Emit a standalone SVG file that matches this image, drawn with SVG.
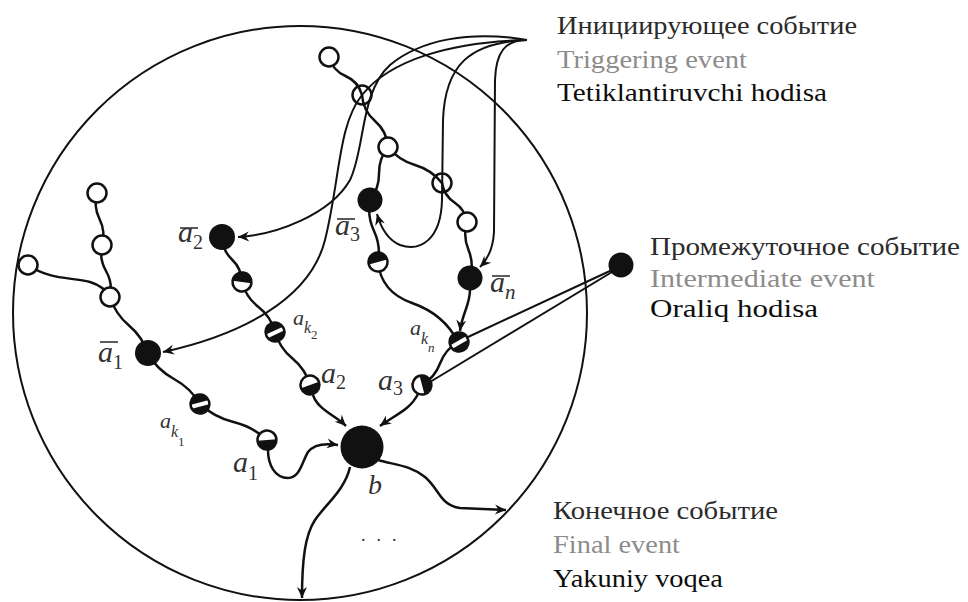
<svg xmlns="http://www.w3.org/2000/svg" xmlns:xlink="http://www.w3.org/1999/xlink" width="968" height="602" viewBox="0 0 968 602">
<style>
.ring{fill:none;stroke:#111;stroke-width:2.5}
.open{fill:#fff;stroke:#111;stroke-width:2.5}
.blk{fill:#111}
.wave{fill:none;stroke:#111;stroke-width:2.5;stroke-linecap:round}
.arr{fill:none;stroke:#111;stroke-width:2}
.thick{fill:none;stroke:#111;stroke-width:2.5}
.lab{font-family:"Liberation Serif","Times New Roman",serif;font-style:italic;fill:#333}
.up{font-style:normal}
.bar{stroke:#333;stroke-width:1.6}
.leg{font-family:"Liberation Serif","Times New Roman",serif;font-size:26px}
.t1{fill:#2b2b2b}
.t2{fill:#8c8c8c}
.t3{fill:#0d0d0d}
</style>
<defs>
<marker id="ah" viewBox="-12 -6 13 12" refX="0" refY="0" markerWidth="13" markerHeight="12" markerUnits="userSpaceOnUse" orient="auto">
<path d="M0,0 L-11,-5 L-7.5,0 L-11,5 Z" fill="#111"/>
</marker>
<clipPath id="cc"><circle r="8.5"/></clipPath>
<g id="halfT"><circle r="9.5" fill="#fff"/><path d="M-9.5,0 A9.5,9.5 0 0 1 9.5,0 Z" fill="#111"/><circle r="9.5" class="ring"/></g>
<g id="strp"><circle r="9.5" fill="#111"/><rect x="-11" y="-1.5" width="22" height="4" fill="#fff" clip-path="url(#cc)"/><circle r="9.5" class="ring"/></g>
</defs>
<rect width="968" height="602" fill="#fff"/>

<circle cx="300" cy="313" r="287" fill="none" stroke="#111" stroke-width="2"/>

<g id="connectors">
<path class="wave" d="M329,57 Q332.7,70.5 345.5,76 T362,95"/>
<path class="wave" d="M362,95 Q363.1,110.7 375,121 T388,147"/>
<path class="wave" d="M388,147 Q398.7,160.2 415,165 T442,183"/>
<path class="wave" d="M442,183 Q444,195.5 454.5,202.5 T467,222"/>
<path class="wave" d="M467,222 Q462.75,236 468.5,250 T470,278"/>
<path class="wave" d="M388,147 Q378.8,158.6 379,173.5 T370,200"/>
<path class="wave" d="M370,200 Q367,216 374,231 T378,262"/>
<path class="wave" d="M378,262 C380,282 392,296 412,303 C432,310 448,322 458,342"/>
<path class="wave" d="M458,342 Q445.2,349.5 440,363.5 T422,385"/>
<path class="wave" d="M275,332 Q279.6,348 292.5,358.5 T310,385"/>
<path class="wave" d="M242,282 Q246,297.25 258.5,307 T275,332"/>
<path class="wave" d="M222,237 Q222.4,250.3 232,259.5 T242,282"/>
<path class="wave" d="M97,193 Q93.25,206.5 99.5,219 T102,245"/>
<path class="wave" d="M102,245 Q99,258.8 106,271 T110,297"/>
<path class="wave" d="M28,265 C50,280 70,277 90,282 C100,285 106,290 110,297"/>
<path class="wave" d="M110,297 Q115.3,314 129,325.5 T148,354"/>
<path class="wave" d="M148,354 Q157.5,370 174,379 T200,404"/>
<path class="wave" d="M200,404 Q214.4,417.4 233.5,422 T267,440"/>
<path class="thick" marker-end="url(#ah)" d="M470,290 C470,305 462,314 460,331"/>
<path class="thick" marker-end="url(#ah)" d="M418,394 C410,410 395,415 380,426"/>
<path class="thick" marker-end="url(#ah)" d="M313,395 C318,410 335,415 346,426"/>
<path class="thick" marker-end="url(#ah)" d="M268,450 C268,465 275,478 288,478 C300,478 302,462 308,452 C314,444 325,443 338,445"/>
<path class="thick" marker-end="url(#ah)" d="M350,467 C345,490 325,505 315,520 C305,535 302,560 302,598"/>
<path class="thick" marker-end="url(#ah)" d="M378,460 C395,465 410,465 425,477 C440,490 440,505 460,508 L506,510"/>
<path class="arr" marker-end="url(#ah)" d="M527,40 C470,30 420,40 390,65 C360,92 365,150 350,180 C330,215 275,235 238,237"/>
<path class="arr" marker-end="url(#ah)" d="M527,40 C450,42 390,60 362,95 C338,125 340,180 325,240 C310,300 240,335 163,352"/>
<path class="arr" marker-end="url(#ah)" d="M527,40 C470,42 445,65 443,120 L442,200 C441,240 420,252 400,245 C388,240 381,228 377,214"/>
<path class="arr" marker-end="url(#ah)" d="M527,40 C505,40 496,52 495,80 L494,232 C493,250 487,260 480,267"/>
<path class="arr" d="M612,270 L468,337"/>
<path class="arr" d="M612,272 L430,382"/>
</g>

<g id="n-top"><circle class="open" cx="329" cy="57" r="9.5"/></g>
<g id="n-o2"><circle class="open" cx="362" cy="95" r="9.5" fill-opacity="0"/></g>
<g id="n-o3"><circle class="open" cx="388" cy="147" r="9.5"/></g>
<g id="n-o4"><circle class="open" cx="442" cy="183" r="9.5" fill-opacity="0"/></g>
<g id="n-o5"><circle class="open" cx="467" cy="222" r="9.5"/></g>
<g id="n-a3bar"><circle class="blk" cx="370" cy="200" r="12.5"/></g>
<g id="n-anbar"><circle class="blk" cx="470" cy="278" r="12.5"/></g>
<g id="n-h3"><use xlink:href="#halfT" href="#halfT" transform="translate(378,262) rotate(-15)"/></g>
<g id="n-akn"><use xlink:href="#strp" href="#strp" transform="translate(459,342) rotate(-30)"/></g>
<g id="n-a3"><use xlink:href="#halfT" href="#halfT" transform="translate(422,385) rotate(75)"/></g>
<g id="n-a2"><use xlink:href="#halfT" href="#halfT" transform="translate(310,385) rotate(160)"/></g>
<g id="n-ak2"><use xlink:href="#strp" href="#strp" transform="translate(275,332) rotate(-25)"/></g>
<g id="n-h2"><use xlink:href="#halfT" href="#halfT" transform="translate(242,282) rotate(8)"/></g>
<g id="n-a2bar"><circle class="blk" cx="222" cy="237" r="13"/></g>
<g id="n-l1"><circle class="open" cx="97" cy="193" r="9.5"/></g>
<g id="n-l2"><circle class="open" cx="102" cy="245" r="9.5"/></g>
<g id="n-l3"><circle class="open" cx="110" cy="297" r="9.5"/></g>
<g id="n-l4"><circle class="open" cx="28" cy="265" r="9.5"/></g>
<g id="n-a1bar"><circle class="blk" cx="148" cy="353" r="13"/></g>
<g id="n-ak1"><use xlink:href="#strp" href="#strp" transform="translate(200,404) rotate(-15)"/></g>
<g id="n-a1"><use xlink:href="#halfT" href="#halfT" transform="translate(267,440) rotate(175)"/></g>
<g id="n-b"><circle class="blk" cx="362" cy="447" r="21.5"/></g>
<g id="n-inter"><circle class="blk" cx="621" cy="265" r="12.5"/></g>

<g id="labels">
<line class="bar" x1="100" y1="342" x2="118" y2="342"/>
<text class="lab" x="98" y="362" font-size="30">a<tspan class="up" font-size="20" dy="7">1</tspan></text>
<line class="bar" x1="180" y1="228" x2="198" y2="228"/>
<text class="lab" x="178" y="242" font-size="30">a<tspan class="up" font-size="20" dy="7">2</tspan></text>
<line class="bar" x1="337" y1="219" x2="355" y2="219"/>
<text class="lab" x="335" y="235" font-size="30">a<tspan class="up" font-size="20" dy="6">3</tspan></text>
<line class="bar" x1="492" y1="276" x2="510" y2="276"/>
<text class="lab" x="490" y="292" font-size="30">a<tspan font-size="21" dy="7">n</tspan></text>
<text class="lab" x="160" y="428" font-size="22">a<tspan font-size="16" dy="9">k</tspan><tspan class="up" font-size="13" dy="9">1</tspan></text>
<text class="lab" x="293" y="325" font-size="22">a<tspan font-size="16" dy="8">k</tspan><tspan class="up" font-size="13" dy="6">2</tspan></text>
<text class="lab" x="410" y="335" font-size="22">a<tspan font-size="16" dy="9">k</tspan><tspan font-size="13" dy="8">n</tspan></text>
<text class="lab" x="233" y="472" font-size="30">a<tspan class="up" font-size="20" dy="8">1</tspan></text>
<text class="lab" x="321" y="383" font-size="30">a<tspan class="up" font-size="20" dy="6">2</tspan></text>
<text class="lab" x="378" y="390" font-size="30">a<tspan class="up" font-size="20" dy="5">3</tspan></text>
<text class="lab" x="368" y="494" font-size="28">b</text>
<text class="lab up" x="361" y="541" font-size="18" fill="#777" letter-spacing="11">...</text>
</g>

<g id="legend">
<text class="leg t1" x="557" y="34" textLength="300" lengthAdjust="spacingAndGlyphs">Инициирующее событие</text>
<text class="leg t2" x="557" y="68" textLength="190" lengthAdjust="spacingAndGlyphs">Triggering event</text>
<text class="leg t3" x="557" y="101" textLength="270" lengthAdjust="spacingAndGlyphs">Tetiklantiruvchi hodisa</text>
<text class="leg t1" x="650" y="255" textLength="310" lengthAdjust="spacingAndGlyphs">Промежуточное событие</text>
<text class="leg t2" x="650" y="287" textLength="225" lengthAdjust="spacingAndGlyphs">Intermediate event</text>
<text class="leg t3" x="650" y="317" textLength="168" lengthAdjust="spacingAndGlyphs">Oraliq hodisa</text>
<text class="leg t1" x="553" y="519" textLength="225" lengthAdjust="spacingAndGlyphs">Конечное событие</text>
<text class="leg t2" x="553" y="553" textLength="127" lengthAdjust="spacingAndGlyphs">Final event</text>
<text class="leg t3" x="553" y="587" textLength="170" lengthAdjust="spacingAndGlyphs">Yakuniy voqea</text>
</g>
</svg>
